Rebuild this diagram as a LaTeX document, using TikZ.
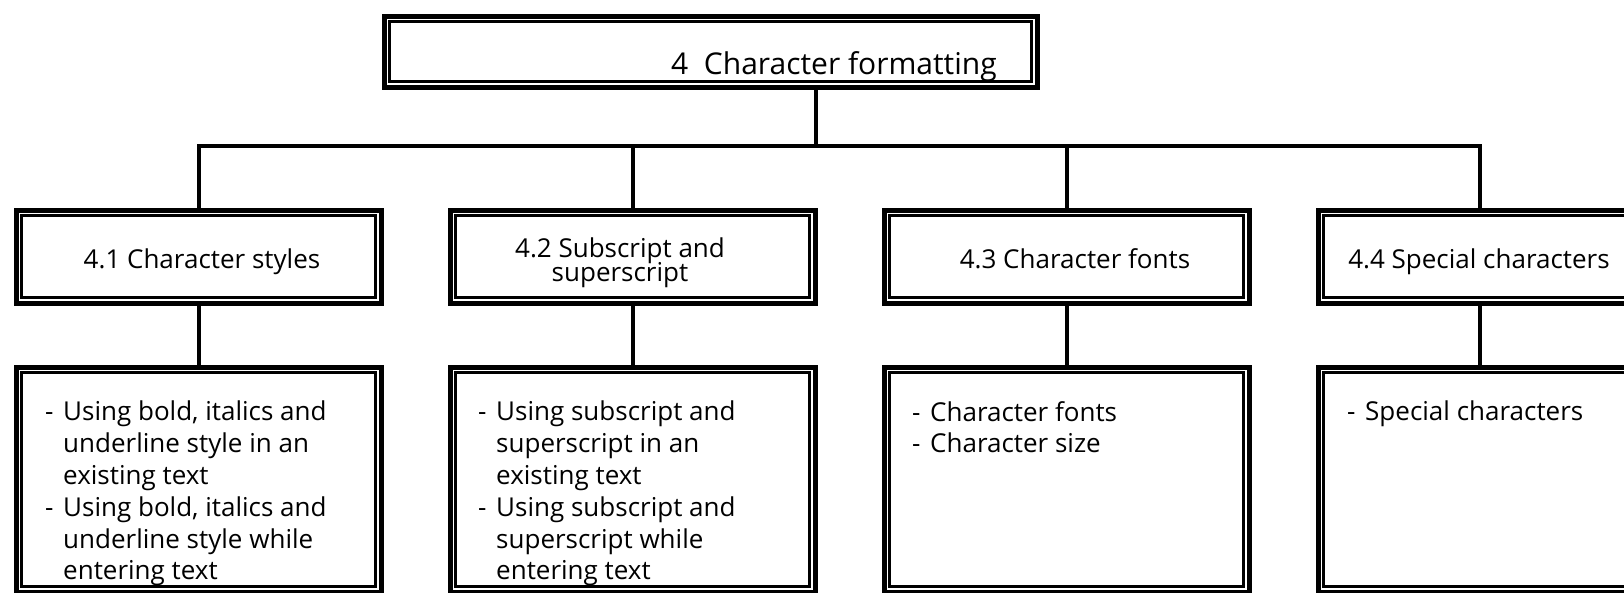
\documentclass[tikz,border=0pt]{standalone}
\usepackage{fontspec}
\setmainfont{Open Sans}
\newcommand\dashline[1]{\makebox[18pt][l]{-}#1}
\newcommand\restline[1]{\hspace*{18pt}#1}
\newcommand\titlefont{\fontsize{26}{24}\selectfont\lineskiplimit=-50pt\relax}
\tikzset{
  dbox/.style={draw, line width=5pt, inner sep=0pt, anchor=north west,
    path picture={\draw[line width=2.5pt]
      ([xshift=5.5pt,yshift=-5.5pt]path picture bounding box.north west) rectangle
      ([xshift=-5.5pt,yshift=5.5pt]path picture bounding box.south east);}},
  link/.style={line width=4pt},
  txt/.style={inner sep=0pt, font=\titlefont},
  lst/.style={inner sep=0pt, anchor=north west, align=left,
    font=\fontsize{26}{31.8}\selectfont}
}
\begin{document}
\begin{tikzpicture}[x=1pt, y=-1pt]
    \useasboundingbox (0,0) rectangle (1624,592);
    \clip (0,0) rectangle (1624,592);
    % Boxes
    \node[dbox, minimum width=653pt, minimum height=71pt] (head) at (381.5,13.5) {};
    \node[dbox, minimum width=365pt, minimum height=93pt] (c1) at (13.5,207.5) {};
    \node[dbox, minimum width=365pt, minimum height=93pt] (c2) at (447.5,207.5) {};
    \node[dbox, minimum width=365pt, minimum height=93pt] (c3) at (881.5,207.5) {};
    \node[dbox, minimum width=323pt, minimum height=93pt] (c4) at (1315.5,207.5) {};
    \node[dbox, minimum width=365pt, minimum height=225pt] (d1) at (13.5,364.5) {};
    \node[dbox, minimum width=365pt, minimum height=225pt] (d2) at (447.5,364.5) {};
    \node[dbox, minimum width=365pt, minimum height=225pt] (d3) at (881.5,364.5) {};
    \node[dbox, minimum width=323pt, minimum height=225pt] (d4) at (1315.5,364.5) {};
    % Titles
    \node[txt, anchor=base, font=\fontsize{30}{36}\selectfont] (headtxt) at (834,74) {4\ \ Character formatting};
    \node[txt, anchor=base] (c1txt) at (202,268) {4.1 Character styles};
    \node[txt, anchor=base, align=center] (c2txt) at (620,281) {4.2 Subscript and\\superscript};
    \node[txt, anchor=base] (c3txt) at (1075,268) {4.3 Character fonts};
    \node[txt, anchor=base] (c4txt) at (1479,268) {4.4 Special characters};
    % Lists
    \node[lst] (d1txt) at (45,401) {\dashline{Using bold, italics and}\\
      \restline{underline style in an}\\ \restline{existing text}\\
      \dashline{Using bold, italics and}\\ \restline{underline style while}\\
      \restline{entering text}};
    \node[lst] (d2txt) at (478,401) {\dashline{Using subscript and}\\
      \restline{superscript in an}\\ \restline{existing text}\\
      \dashline{Using subscript and}\\ \restline{superscript while}\\
      \restline{entering text}};
    \node[lst] (d3txt) at (912,401) {\dashline{Character fonts}\\
      \dashline{Character size}};
    \node[lst] (d4txt) at (1347,401) {\dashline{Special characters}};
    % Connectors
    \coordinate (fork) at (816,146);
    \draw[link] (head.south -| fork) -- (fork);
    \draw[link] (c1.north) -- (c1.north |- fork) -- (c4.north |- fork) -- (c4.north);
    \draw[link] (c2.north) -- (c2.north |- fork);
    \draw[link] (c3.north) -- (c3.north |- fork);
    \foreach \i in {1,...,4}
        \draw[link] (c\i.south) -- (d\i.north);
\end{tikzpicture}
\end{document}
